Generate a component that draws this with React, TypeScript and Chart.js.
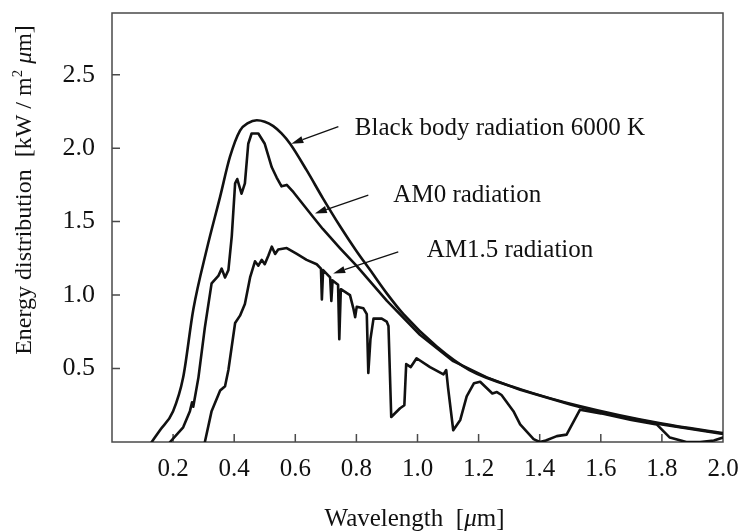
import React, { useEffect, useRef } from 'react';
import { Chart, registerables } from 'chart.js';

Chart.register(...registerables);

// Spectral energy distribution curves, wavelength in µm, energy in kW / m² µm
const blackBodyWavelength = [0.13, 0.157, 0.2, 0.233, 0.266, 0.31, 0.354, 0.386, 0.419, 0.445, 0.474, 0.5, 0.528, 0.555, 0.583, 0.637, 0.69, 0.746, 0.8, 0.845, 0.9, 0.954, 1.063, 1.17, 1.336, 1.53, 1.8, 2.0];
const blackBodyEnergy = [0, 0.08, 0.21, 0.44, 0.9, 1.31, 1.67, 1.94, 2.12, 2.17, 2.19, 2.18, 2.15, 2.1, 2.03, 1.85, 1.66, 1.47, 1.3, 1.17, 1.01, 0.87, 0.65, 0.49, 0.36, 0.245, 0.125, 0.06];

const am0Wavelength = [0.19, 0.233, 0.255, 0.262, 0.266, 0.283, 0.304, 0.326, 0.348, 0.359, 0.37, 0.381, 0.392, 0.403, 0.41, 0.424, 0.435, 0.446, 0.457, 0.479, 0.5, 0.523, 0.539, 0.555, 0.572, 0.594, 0.659, 0.69, 0.746, 0.8, 0.9, 1.008, 1.117, 1.227, 1.336, 1.5, 1.6, 1.8, 2.0];
const am0Energy = [0, 0.1, 0.21, 0.27, 0.24, 0.44, 0.78, 1.08, 1.13, 1.18, 1.12, 1.17, 1.4, 1.76, 1.79, 1.69, 1.76, 2.03, 2.1, 2.1, 2.03, 1.87, 1.8, 1.74, 1.75, 1.7, 1.53, 1.45, 1.32, 1.2, 0.96, 0.73, 0.55, 0.44, 0.355, 0.255, 0.2, 0.12, 0.055];

const am15Wavelength = [0.304, 0.326, 0.354, 0.37, 0.381, 0.403, 0.419, 0.435, 0.452, 0.468, 0.479, 0.49, 0.5, 0.512, 0.523, 0.534, 0.544, 0.572, 0.605, 0.637, 0.67, 0.684, 0.687, 0.691, 0.714, 0.718, 0.722, 0.74, 0.744, 0.749, 0.779, 0.79, 0.796, 0.801, 0.823, 0.834, 0.839, 0.846, 0.856, 0.883, 0.899, 0.905, 0.914, 0.943, 0.957, 0.963, 0.978, 0.997, 1.041, 1.085, 1.094, 1.1, 1.117, 1.14, 1.161, 1.185, 1.205, 1.245, 1.26, 1.275, 1.314, 1.336, 1.38, 1.4, 1.42, 1.456, 1.488, 1.532, 1.6, 1.7, 1.783, 1.826, 1.88, 1.925, 1.97, 2.0];
const am15Energy = [0, 0.21, 0.35, 0.38, 0.49, 0.81, 0.86, 0.94, 1.12, 1.23, 1.2, 1.24, 1.21, 1.27, 1.33, 1.28, 1.31, 1.32, 1.28, 1.24, 1.21, 1.18, 0.97, 1.17, 1.12, 0.96, 1.1, 1.07, 0.7, 1.04, 1.0, 0.91, 0.85, 0.92, 0.91, 0.87, 0.47, 0.7, 0.84, 0.84, 0.82, 0.79, 0.17, 0.23, 0.25, 0.53, 0.51, 0.57, 0.51, 0.46, 0.49, 0.37, 0.08, 0.15, 0.31, 0.4, 0.41, 0.33, 0.34, 0.32, 0.21, 0.12, 0.02, 0, 0.01, 0.04, 0.05, 0.22, 0.195, 0.15, 0.12, 0.03, 0, 0, 0.01, 0.03];

const xTickValues = [0.2, 0.4, 0.6, 0.8, 1.0, 1.2, 1.4, 1.6, 1.8, 2.0];
const yTickValues = [0.5, 1.0, 1.5, 2.0, 2.5];
const X_MIN = 0;
const X_MAX = 2.0;
const Y_MIN = 0;
const Y_MAX = 2.92;

// Curve labels with pointer arrows (data coordinates)
const calloutLabels = ['Black body radiation 6000 K', 'AM0 radiation', 'AM1.5 radiation'];
const calloutTextAt = [[0.795, 2.09], [0.921, 1.632], [1.03, 1.258]];
const calloutTail = [[0.741, 2.146], [0.839, 1.68], [0.937, 1.294]];
const calloutHead = [[0.587, 2.03], [0.664, 1.556], [0.724, 1.147]];

const FONT = '"Liberation Serif", "Times New Roman", serif';
const INK = '#111111';

type Run = { text: string; italic?: boolean; sup?: boolean };

function drawRuns(ctx: CanvasRenderingContext2D, runs: Run[], cx: number, cy: number, size: number, rotate: boolean) {
  ctx.save();
  ctx.translate(cx, cy);
  if (rotate) ctx.rotate(-Math.PI / 2);
  const fontFor = (r: Run) => `${r.italic ? 'italic ' : ''}${r.sup ? size * 0.62 : size}px ${FONT}`;
  let total = 0;
  runs.forEach((r) => {
    ctx.font = fontFor(r);
    total += ctx.measureText(r.text).width;
  });
  let pos = -total / 2;
  ctx.textAlign = 'left';
  ctx.textBaseline = 'alphabetic';
  ctx.fillStyle = INK;
  runs.forEach((r) => {
    ctx.font = fontFor(r);
    ctx.fillText(r.text, pos, r.sup ? -size * 0.38 : 0);
    pos += ctx.measureText(r.text).width;
  });
  ctx.restore();
}

const framePlugin = {
  id: 'frameAndTicks',
  beforeDatasetsDraw(chart: any) {
    const { ctx, chartArea: a, scales } = chart;
    const x = scales.x;
    const y = scales.y;
    ctx.save();
    ctx.strokeStyle = '#4a4a4a';
    ctx.lineWidth = 1.5;
    ctx.strokeRect(a.left, a.top, a.right - a.left, a.bottom - a.top);
    ctx.beginPath();
    xTickValues.forEach((v) => {
      if (v > X_MIN && v < X_MAX) {
        const px = x.getPixelForValue(v);
        ctx.moveTo(px, a.bottom);
        ctx.lineTo(px, a.bottom - 8);
      }
    });
    yTickValues.forEach((v) => {
      const py = y.getPixelForValue(v);
      ctx.moveTo(a.left, py);
      ctx.lineTo(a.left + 8, py);
    });
    ctx.stroke();
    ctx.restore();
  },
  afterDatasetsDraw(chart: any) {
    const { ctx, scales } = chart;
    const x = scales.x;
    const y = scales.y;
    ctx.save();
    ctx.strokeStyle = INK;
    ctx.fillStyle = INK;
    ctx.lineWidth = 1.3;
    calloutLabels.forEach((label, i) => {
      const tx = x.getPixelForValue(calloutTail[i][0]);
      const ty = y.getPixelForValue(calloutTail[i][1]);
      const hx = x.getPixelForValue(calloutHead[i][0]);
      const hy = y.getPixelForValue(calloutHead[i][1]);
      const ang = Math.atan2(hy - ty, hx - tx);
      const len = 12;
      const half = 3.6;
      const bx = hx - Math.cos(ang) * len;
      const by = hy - Math.sin(ang) * len;
      ctx.beginPath();
      ctx.moveTo(tx, ty);
      ctx.lineTo(bx, by);
      ctx.stroke();
      ctx.beginPath();
      ctx.moveTo(hx, hy);
      ctx.lineTo(bx - Math.sin(ang) * half, by + Math.cos(ang) * half);
      ctx.lineTo(bx + Math.sin(ang) * half, by - Math.cos(ang) * half);
      ctx.closePath();
      ctx.fill();

      ctx.font = `25px ${FONT}`;
      ctx.textAlign = 'left';
      ctx.textBaseline = 'alphabetic';
      ctx.fillText(label, x.getPixelForValue(calloutTextAt[i][0]), y.getPixelForValue(calloutTextAt[i][1]));
    });
    ctx.restore();
  },
  afterDraw(chart: any) {
    const { ctx, chartArea: a } = chart;
    drawRuns(ctx, [
      { text: 'Energy distribution  [kW / m' },
      { text: '2', sup: true },
      { text: ' ' },
      { text: 'μ', italic: true },
      { text: 'm]' },
    ], 31, 190, 24, true);
    drawRuns(ctx, [
      { text: 'Wavelength  [' },
      { text: 'μ', italic: true },
      { text: 'm]' },
    ], (a.left + a.right) / 2 - 3, 526, 25, false);
  },
};

function toPoints(xs: number[], ys: number[]) {
  return xs.map((v, i) => ({ x: v, y: ys[i] }));
}

export default function App() {
  const canvasRef = useRef<HTMLCanvasElement | null>(null);

  useEffect(() => {
    const canvas = canvasRef.current;
    if (!canvas) return;
    const lineStyle = {
      borderColor: INK,
      borderWidth: 2.6,
      pointRadius: 0,
      fill: false,
      borderJoinStyle: 'round' as const,
      borderCapStyle: 'round' as const,
    };
    const chart = new Chart(canvas, {
      type: 'line',
      data: {
        datasets: [
          { label: 'Black body radiation 6000 K', data: toPoints(blackBodyWavelength, blackBodyEnergy), cubicInterpolationMode: 'monotone', ...lineStyle },
          { label: 'AM0 radiation', data: toPoints(am0Wavelength, am0Energy), tension: 0, ...lineStyle },
          { label: 'AM1.5 radiation', data: toPoints(am15Wavelength, am15Energy), tension: 0, ...lineStyle },
        ],
      },
      options: {
        animation: false,
        responsive: false,
        maintainAspectRatio: false,
        layout: { padding: { left: 0, top: 13, right: 15, bottom: 0 } },
        plugins: {
          legend: { display: false },
          tooltip: { enabled: false },
        },
        scales: {
          x: {
            type: 'linear',
            min: X_MIN,
            max: X_MAX,
            grid: { display: false, drawTicks: false },
            border: { display: false },
            afterBuildTicks: (scale: any) => {
              scale.ticks = xTickValues.map((value) => ({ value }));
            },
            afterFit: (scale: any) => {
              scale.height = 89;
              scale.paddingLeft = 0;
              scale.paddingRight = 0;
            },
            ticks: {
              autoSkip: false,
              maxRotation: 0,
              padding: 12,
              color: INK,
              font: { family: FONT, size: 25 },
              callback: (v: any) => Number(v).toFixed(1),
            },
          },
          y: {
            type: 'linear',
            min: Y_MIN,
            max: Y_MAX,
            grid: { display: false, drawTicks: false },
            border: { display: false },
            afterBuildTicks: (scale: any) => {
              scale.ticks = yTickValues.map((value) => ({ value }));
            },
            afterFit: (scale: any) => {
              scale.width = 112;
              scale.paddingTop = 0;
              scale.paddingBottom = 0;
            },
            ticks: {
              autoSkip: false,
              padding: 17,
              color: INK,
              font: { family: FONT, size: 26 },
              callback: (v: any) => Number(v).toFixed(1),
            },
          },
        },
      },
      plugins: [framePlugin],
    });
    return () => chart.destroy();
  }, []);

  return (
    <div style={{ position: 'absolute', left: 0, top: 0, width: 738, height: 531, background: '#fff' }}>
      <canvas ref={canvasRef} width={738} height={531} style={{ display: 'block' }} />
    </div>
  );
}
